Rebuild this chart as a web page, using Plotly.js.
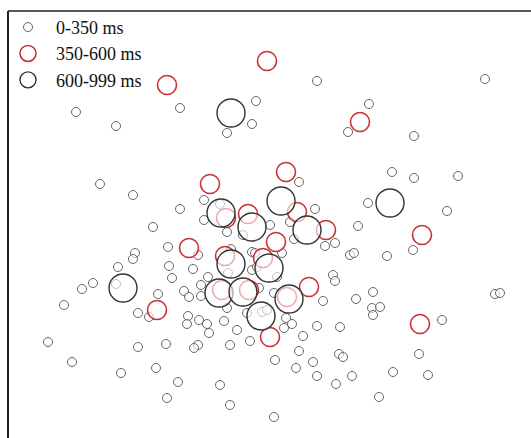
<!DOCTYPE html>
<html>
<head>
<meta charset="utf-8">
<script src="https://cdn.plot.ly/plotly-3.0.1.min.js"></script>
<style>html,body{margin:0;padding:0;background:#fff;}#chart{width:531px;height:438px;}</style>
</head>
<body>
<div id="chart"></div>
<script>
// Response-time groups (legend labels)
var groupNames = ['0-350 ms', '350-600 ms', '600-999 ms'];

// 0-350 ms points
var fastX = [76,116,180,256,252,227,100,133,180,204,317,485,369,348,414,392,414,458,299,315,368,447,
  204,153,135,133,168,118,169,193,172,93,82,64,116,158,138,149,184,189,201,201,208,198,227,220,231,
  188,187,199,207,209,224,237,250,230,48,138,166,198,194,72,156,121,178,220,167,230,274,
  252,252,259,227,247,325,335,350,354,333,335,356,323,274,286,292,284,317,340,303,262,267,282,277,257,255,
  358,270,290,294,387,413,373,372,380,373,495,500,442,299,275,296,313,339,343,419,317,336,352,393,428,379,
  243,228];
var fastY = [112,126,108,101,124,133,184,195,209,200,81,79,104,132,136,172,178,176,182,209,203,211,
  220,227,253,259,247,267,266,269,278,283,289,305,284,294,313,317,291,297,296,285,277,255,232,204,249,
  316,324,320,324,333,321,330,341,345,342,347,344,345,348,362,368,373,382,385,398,405,417,
  252,270,288,308,313,246,243,255,253,275,281,299,301,293,318,324,328,326,327,336,312,310,253,277,267,253,
  226,225,222,239,256,250,292,308,307,315,294,293,320,351,360,368,362,354,357,354,376,384,376,372,375,397,
  235,273];

// 350-600 ms points
var midX = [167,267,360,286,210,248,297,326,226,189,276,422,225,263,222,249,309,287,157,270,420];
var midY = [85,61,122,172,184,214,212,230,218,248,242,235,256,258,290,290,287,297,310,337,324];

// 600-999 ms points
var slowX = [231,281,390,221,252,307,123,231,269,219,243,289,261];
var slowY = [113,201,203,213,227,230,288,264,268,293,292,299,316];

var fill = 'rgba(255,255,255,0.6)';
var traces = [
  {x: fastX, y: fastY, name: groupNames[0], type: 'scatter', mode: 'markers',
   marker: {size: 9, color: fill, line: {color: '#666', width: 1}}},
  {x: midX, y: midY, name: groupNames[1], type: 'scatter', mode: 'markers',
   marker: {size: 19, color: fill, line: {color: '#c83232', width: 1.6}}},
  {x: slowX, y: slowY, name: groupNames[2], type: 'scatter', mode: 'markers',
   marker: {size: 28, color: fill, line: {color: '#333', width: 1.4}}}
];

var hidden = {showgrid: false, zeroline: false, showticklabels: false, ticks: '', showline: false};
var layout = {
  width: 531, height: 438,
  margin: {l: 8, r: 0, t: 11, b: 0},
  paper_bgcolor: '#fff', plot_bgcolor: '#fff',
  xaxis: Object.assign({range: [8, 531]}, hidden),
  yaxis: Object.assign({range: [438, 11]}, hidden),
  showlegend: true,
  legend: {x: -0.0153, y: 1.005, xanchor: 'left', yanchor: 'top', bgcolor: 'rgba(255,255,255,0)',
    font: {family: 'Liberation Serif, Times New Roman, serif', size: 18, color: '#111'},
    tracegroupgap: 0, itemsizing: 'trace', itemwidth: 46},
  shapes: [
    {type: 'line', xref: 'paper', yref: 'paper', x0: 0, x1: 1.05, y0: 1, y1: 1, line: {color: '#222', width: 1.5}},
    {type: 'line', xref: 'paper', yref: 'paper', x0: 0, x1: 0, y0: -0.05, y1: 1, line: {color: '#222', width: 2}}
  ]
};
Plotly.newPlot('chart', traces, layout, {displayModeBar: false, staticPlot: true});
</script>
</body>
</html>
